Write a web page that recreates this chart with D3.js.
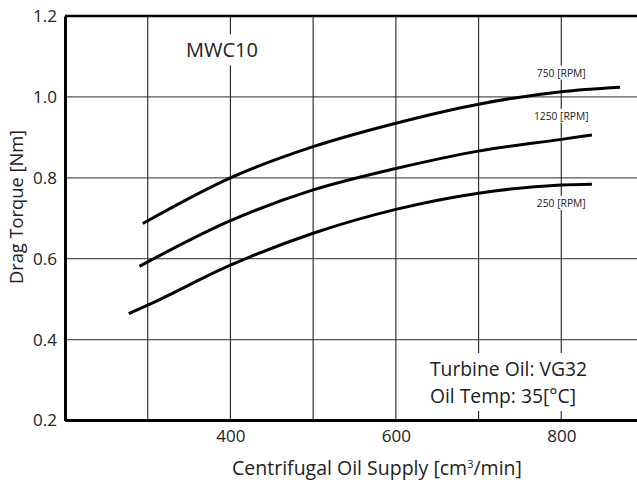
<!DOCTYPE html>
<html>
<head>
<meta charset="utf-8">
<script src="https://cdn.jsdelivr.net/npm/d3@7"></script>
<style>
  html, body { margin: 0; padding: 0; background: #fff; }
  svg { display: block; }
  text { font-family: "Open Sans", sans-serif; fill: #222; }
</style>
</head>
<body>
<div id="chart"></div>
<script>
// ---- data ----
const xTicks = [300, 400, 500, 600, 700, 800];
const xTickLabels = ["", "400", "", "600", "", "800"];
const yTicks = [0.2, 0.4, 0.6, 0.8, 1.0, 1.2];
const yTickLabels = ["0.2", "0.4", "0.6", "0.8", "1.0", "1.2"];

const rpm750 = [[294, 0.687], [400, 0.800], [500, 0.877], [600, 0.935], [700, 0.982], [800, 1.013], [871, 1.024]];
const rpm1250 = [[290, 0.581], [300, 0.592], [400, 0.694], [500, 0.770], [600, 0.823], [700, 0.866], [800, 0.895], [837, 0.906]];
const rpm250 = [[277, 0.464], [300, 0.485], [400, 0.584], [500, 0.663], [600, 0.722], [700, 0.762], [800, 0.782], [837, 0.784]];
const seriesNames = ["750 [RPM]", "1250 [RPM]", "250 [RPM]"];
const labelPos = [[800, 1.057], [800, 0.950], [800, 0.735]];

const title = "MWC10";
const note = ["Turbine Oil: VG32", "Oil Temp: 35[\u00B0C]"];

// ---- layout ----
const W = 637, H = 483;
const svg = d3.select("#chart").append("svg").attr("width", W).attr("height", H);

const x = d3.scaleLinear().domain([200, 900]).range([65, 644]);
const y = d3.scaleLinear().domain([0.2, 1.2]).range([420.5, 16]);

// grid
const g = svg.append("g");
g.selectAll(".hg").data(yTicks.filter(d => d > 0.2 && d < 1.2)).join("line")
  .attr("x1", x(200)).attr("x2", W).attr("y1", d => y(d)).attr("y2", d => y(d))
  .attr("stroke", "#555").attr("stroke-width", 1.2);
g.selectAll(".vg").data(xTicks).join("line")
  .attr("x1", d => x(d)).attr("x2", d => x(d)).attr("y1", y(1.2)).attr("y2", y(0.2))
  .attr("stroke", "#333").attr("stroke-width", 1.2);

// frame
svg.append("line").attr("x1", x(200)).attr("x2", W).attr("y1", y(1.2)).attr("y2", y(1.2))
  .attr("stroke", "#000").attr("stroke-width", 2.5);

// axes
const yAxis = d3.axisLeft(y).tickValues(yTicks).tickFormat((d, i) => yTickLabels[i]).tickSize(0).tickPadding(8);
const ya = svg.append("g").attr("transform", `translate(${x(200)},0)`).call(yAxis);
ya.select(".domain").attr("stroke", "#000").attr("stroke-width", 3);
ya.selectAll("text").style("font-size", "17px").style("font-family", "'Open Sans', sans-serif").attr("fill", "#222");

const xAxis = d3.axisBottom(x).tickValues(xTicks).tickFormat((d, i) => xTickLabels[i]).tickSize(0).tickPadding(9);
const xa = svg.append("g").attr("transform", `translate(0,${y(0.2)})`).call(xAxis);
xa.select(".domain").attr("stroke", "#000").attr("stroke-width", 3).attr("d", `M${x(200)},0H${W}`);
xa.selectAll("text").style("font-size", "17px").style("font-family", "'Open Sans', sans-serif").attr("fill", "#222");

// axis titles
svg.append("text").attr("x", 377).attr("y", 475).attr("text-anchor", "middle")
  .style("font-size", "19.5px")
  .html('Centrifugal Oil Supply [cm<tspan dy="-7" style="font-size:11px">3</tspan><tspan dy="7">/min]</tspan>');
svg.append("text").attr("transform", "translate(23,207) rotate(-90)").attr("text-anchor", "middle")
  .style("font-size", "18.3px").text("Drag Torque [Nm]");

// curves
const line = d3.line().x(d => x(d[0])).y(d => y(d[1])).curve(d3.curveMonotoneX);
[rpm750, rpm1250, rpm250].forEach(s => {
  svg.append("path").attr("d", line(s)).attr("fill", "none").attr("stroke", "#000")
    .attr("stroke-width", 3).attr("stroke-linecap", "butt");
});

// series labels with white background
seriesNames.forEach((name, i) => {
  const t = svg.append("text").attr("x", x(labelPos[i][0])).attr("y", y(labelPos[i][1]))
    .attr("text-anchor", "middle").attr("dominant-baseline", "middle")
    .style("font-size", "10.3px").text(name);
  const bb = t.node().getBBox();
  svg.insert("rect", () => t.node()).attr("x", bb.x - 1).attr("y", bb.y).attr("width", bb.width + 2)
    .attr("height", bb.height).attr("fill", "#fff");
});

// title
{
  const t = svg.append("text").attr("x", 222).attr("y", 52).attr("text-anchor", "middle")
    .attr("dominant-baseline", "middle").style("font-size", "20px").text(title);
  const bb = t.node().getBBox();
  svg.insert("rect", () => t.node()).attr("x", bb.x - 4).attr("y", bb.y - 2).attr("width", bb.width + 8)
    .attr("height", bb.height + 4).attr("fill", "#fff");
}

// note
{
  const gn = svg.append("g");
  const t1 = gn.append("text").attr("x", 430).attr("y", 376).style("font-size", "19.3px").text(note[0]);
  const t2 = gn.append("text").attr("x", 430).attr("y", 403).style("font-size", "19.3px").text(note[1]);
  const b1 = t1.node().getBBox(), b2 = t2.node().getBBox();
  const x0 = Math.min(b1.x, b2.x) - 4, x1 = Math.max(b1.x + b1.width, b2.x + b2.width) + 4;
  gn.insert("rect", ":first-child").attr("x", x0).attr("y", b1.y - 2).attr("width", x1 - x0)
    .attr("height", b2.y + b2.height - b1.y + 4).attr("fill", "#fff");
}
</script>
</body>
</html>
